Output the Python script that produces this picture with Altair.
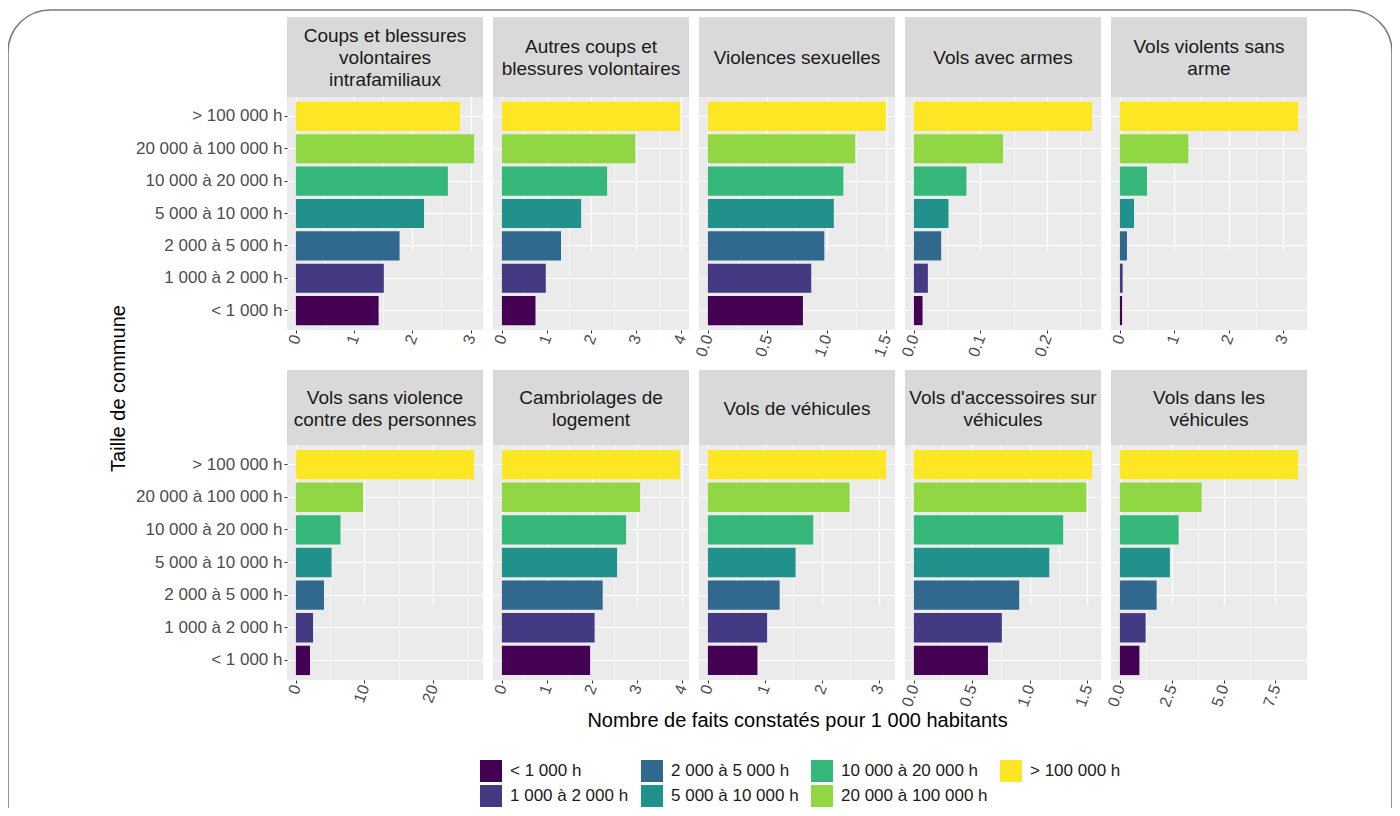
import altair as alt
import pandas as pd

# Tailles de commune (du plus petit au plus grand)
sizes = ["< 1 000 h", "1 000 à 2 000 h", "2 000 à 5 000 h", "5 000 à 10 000 h",
         "10 000 à 20 000 h", "20 000 à 100 000 h", "> 100 000 h"]
colors = ["#440154", "#443983", "#31688E", "#21918C", "#35B779", "#90D743", "#FDE725"]

panel_titles = [
    "Coups et blessures\nvolontaires\nintrafamiliaux",
    "Autres coups et\nblessures volontaires",
    "Violences sexuelles",
    "Vols avec armes",
    "Vols violents sans\narme",
    "Vols sans violence\ncontre des personnes",
    "Cambriolages de\nlogement",
    "Vols de véhicules",
    "Vols d'accessoires sur\nvéhicules",
    "Vols dans les\nvéhicules",
]

# valeurs (même ordre que sizes)
coups_intra = [1.42, 1.51, 1.78, 2.20, 2.61, 3.06, 2.82]
autres_coups = [0.75, 0.98, 1.32, 1.77, 2.35, 2.98, 3.98]
violences_sex = [0.80, 0.87, 0.98, 1.06, 1.14, 1.24, 1.50]
vols_armes = [0.013, 0.021, 0.041, 0.052, 0.079, 0.134, 0.268]
vols_violents = [0.04, 0.05, 0.13, 0.26, 0.50, 1.26, 3.28]
vols_sans_violence = [2.06, 2.5, 4.1, 5.2, 6.5, 9.8, 26.0]
cambriolages = [1.96, 2.06, 2.24, 2.56, 2.76, 3.07, 3.96]
vols_vehicules = [0.87, 1.04, 1.26, 1.54, 1.85, 2.49, 3.13]
vols_accessoires = [0.64, 0.76, 0.91, 1.17, 1.29, 1.49, 1.54]
vols_dans = [0.94, 1.24, 1.77, 2.41, 2.83, 3.94, 8.59]

series = [coups_intra, autres_coups, violences_sex, vols_armes, vols_violents,
          vols_sans_violence, cambriolages, vols_vehicules, vols_accessoires, vols_dans]

major_ticks = [
    [0, 1, 2, 3], [0, 1, 2, 3, 4], [0, 0.5, 1, 1.5], [0, 0.1, 0.2], [0, 1, 2, 3],
    [0, 10, 20], [0, 1, 2, 3, 4], [0, 1, 2, 3], [0, 0.5, 1, 1.5], [0, 2.5, 5, 7.5],
]
minor_ticks = [
    [0.5, 1.5, 2.5], [0.5, 1.5, 2.5, 3.5], [0.25, 0.75, 1.25], [0.05, 0.15, 0.25], [0.5, 1.5, 2.5],
    [5, 15, 25], [0.5, 1.5, 2.5, 3.5], [0.5, 1.5, 2.5], [0.25, 0.75, 1.25], [1.25, 3.75, 6.25],
]
tick_formats = ["d", "d", ".1f", ".1f", "d", "d", "d", "d", ".1f", ".1f"]

x_title = "Nombre de faits constatés pour 1 000 habitants"
y_title = "Taille de commune"

W = 196
PANEL_H = [233, 235]
STRIP_H = [80, 75]
LINE_H = 22

legend_spec = alt.Legend(
    title=None, orient="none", legendX=193, legendY=743, columns=4,
    direction="vertical",
    symbolType="square", symbolSize=484, symbolStrokeWidth=0, symbolOpacity=1,
    labelFontSize=17, labelColor="#1A1A1A", labelOffset=8,
    columnPadding=12, rowPadding=3,
)


def make_panel(i, row, col):
    vals = series[i]
    sh = STRIP_H[row]
    ph = PANEL_H[row]
    df = pd.DataFrame({"taille": sizes, "valeur": vals})
    m = max(vals)
    xscale = alt.Scale(domain=[-0.05 * m, 1.05 * m], nice=False, zero=False)

    xaxis_kw = dict(
        values=major_ticks[i], format=tick_formats[i], labelAngle=290,
        labelAlign="right", labelBaseline="middle", labelFontSize=16,
        labelColor="#4D4D4D", labelPadding=2, tickSize=3, tickColor="#333333",
        domain=False, grid=True, gridColor="white", gridWidth=1.2,
    )
    if i == 7:
        xaxis_kw.update(title=x_title, titleFontSize=20, titleFontWeight="normal",
                        titleColor="black", titleY=40, titleBaseline="middle")
    else:
        xaxis_kw.update(title=None)

    if col == 0:
        yaxis_kw = dict(labelFontSize=17, labelColor="#4D4D4D", labelPadding=2,
                        tickSize=3, tickColor="#333333", domain=False)
    else:
        yaxis_kw = dict(labels=False, ticks=False, domain=False)
    yaxis_kw.update(grid=True, gridColor="white", gridWidth=1.2, bandPosition=0.5)
    if i == 0:
        yaxis_kw.update(title=y_title, titleFontSize=20, titleFontWeight="normal",
                        titleColor="black", titleX=-169, titleY=371,
                        titleAngle=270, titleBaseline="middle", titleAlign="center")
    else:
        yaxis_kw.update(title=None)

    minor = alt.Chart(df).mark_point(opacity=0).encode(
        x=alt.X("valeur:Q", scale=xscale,
                axis=alt.Axis(orient="top", values=minor_ticks[i], labels=False,
                              ticks=False, domain=False, grid=True,
                              gridColor="white", gridWidth=0.6, title=None))
    )
    bars = alt.Chart(df).mark_bar().encode(
        x=alt.X("valeur:Q", scale=xscale, axis=alt.Axis(**xaxis_kw)),
        y=alt.Y("taille:N", sort=sizes[::-1],
                scale=alt.Scale(paddingInner=0.1, paddingOuter=0.15,
                                range=[sh, sh + ph]),
                axis=alt.Axis(**yaxis_kw)),
        color=alt.Color("taille:N",
                        scale=alt.Scale(domain=sizes, range=colors),
                        legend=legend_spec),
    )
    title = panel_titles[i]
    n_lines = title.count("\n") + 1
    sdf = pd.DataFrame({"titre": [title]})
    strip = alt.Chart(sdf).mark_rect(color="#D9D9D9").encode(
        x=alt.value(0), x2=alt.value(W), y=alt.value(0), y2=alt.value(sh)
    )
    strip_text = alt.Chart(sdf).mark_text(
        lineBreak="\n", fontSize=19, color="#1A1A1A", align="center",
        baseline="middle", lineHeight=LINE_H,
    ).encode(x=alt.value(W / 2),
             y=alt.value(sh / 2 + 1 - (n_lines - 1) * LINE_H / 2),
             text="titre:N")

    layers = [minor, bars, strip, strip_text]
    if i == 0:
        # cadre arrondi autour de la figure
        frame = alt.Chart(sdf).mark_rect(
            fillOpacity=0, stroke="#7A7A7A", strokeWidth=1.6, cornerRadius=42
        ).encode(x=alt.value(-279), x2=alt.value(1105),
                 y=alt.value(-7), y2=alt.value(840))
        layers.append(frame)

    return alt.layer(*layers).resolve_axis(
        x="independent").properties(width=W, height=sh + ph)


panels = []
for r in range(2):
    for c in range(5):
        panels.append(make_panel(r * 5 + c, r, c))

chart = alt.concat(
    *panels, columns=5, spacing={"row": 40, "column": 10}, bounds="flush"
).resolve_scale(
    color="shared"
).properties(
    autosize=alt.AutoSizeParams(type="none"),
    padding={"left": 279, "top": 9, "right": 1105, "bottom": 791},
    background="white",
).configure(
    font="Liberation Sans",
).configure_view(
    fill="#EBEBEB", stroke=None,
)

chart.save("out.html", embed_options={"renderer": "svg", "actions": False})
